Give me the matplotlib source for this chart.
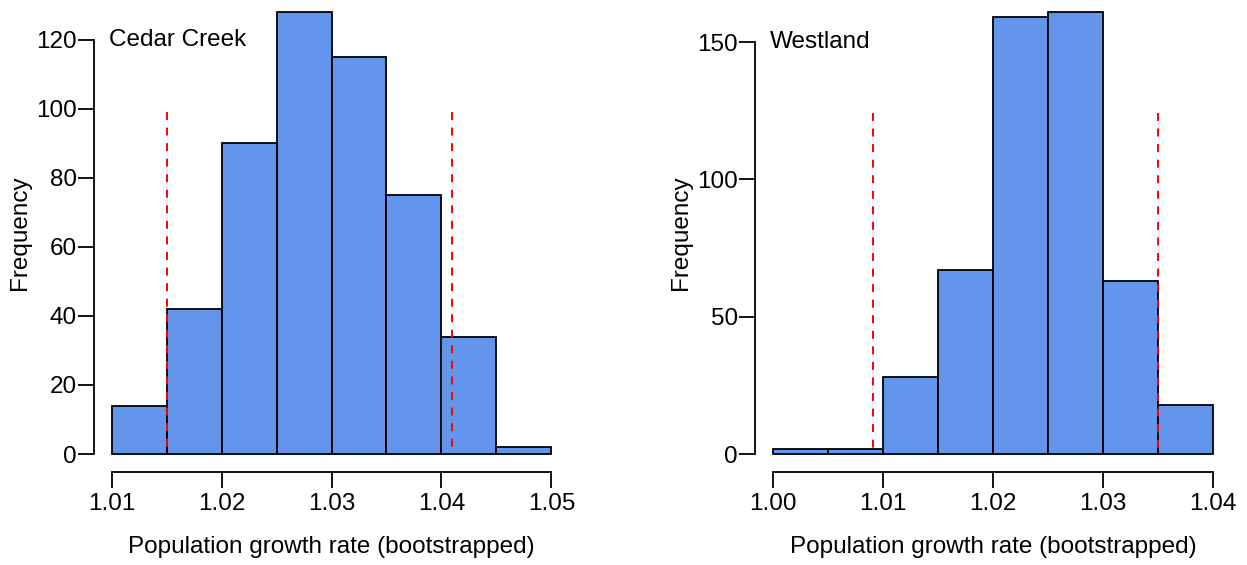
import numpy as np
import matplotlib
matplotlib.use("Agg")
import matplotlib.pyplot as plt

plt.rcParams['font.family'] = ['Liberation Sans', 'DejaVu Sans']

# Data
cedar_edges = [1.010, 1.015, 1.020, 1.025, 1.030, 1.035, 1.040, 1.045, 1.050]
cedar_counts = [14, 42, 90, 128, 115, 75, 34, 2]
cedar_ci = [1.0150, 1.0410]
cedar_ci_top = 99

west_edges = [1.000, 1.005, 1.010, 1.015, 1.020, 1.025, 1.030, 1.035, 1.040]
west_counts = [2, 2, 28, 67, 159, 161, 63, 18]
west_ci = [1.0091, 1.0350]
west_ci_top = 124

cedar_xticks = [1.01, 1.02, 1.03, 1.04, 1.05]
cedar_yticks = [0, 20, 40, 60, 80, 100, 120]
west_xticks = [1.00, 1.01, 1.02, 1.03, 1.04]
west_yticks = [0, 50, 100, 150]

W, H = 1247, 565
fig = plt.figure(figsize=(W / 100, H / 100), dpi=100)

fs = 17.5
bottom_px, height_px, width_px = 471.7, 477.5, 475
panels = [
    (94, "Cedar Creek", cedar_edges, cedar_counts, cedar_ci, cedar_ci_top, cedar_xticks, cedar_yticks),
    (755.4, "Westland", west_edges, west_counts, west_ci, west_ci_top, west_xticks, west_yticks),
]

for left_px, name, edges, counts, ci, ci_top, xt, yt in panels:
    ax = fig.add_axes([left_px / W, (H - bottom_px) / H, width_px / W, height_px / H])
    edges = np.array(edges)
    ax.bar(edges[:-1], counts, width=np.diff(edges), align='edge',
           color='#6495ED', edgecolor='black', linewidth=1.3)
    # dashed interval lines, drawn from the top down
    for x in ci:
        ax.plot([x, x], [ci_top, 0], color='red', linestyle=(0, (4.1, 3.9)), linewidth=1.4)

    # R style extended limits (4%)
    xr = edges[-1] - edges[0]
    ax.set_xlim(edges[0] - 0.04 * xr, edges[-1] + 0.04 * xr)
    ymax = max(counts)
    ax.set_ylim(-0.04 * ymax, ymax * 1.04)

    for s in ['top', 'right']:
        ax.spines[s].set_visible(False)
    ax.spines['left'].set_bounds(yt[0], yt[-1])
    ax.spines['bottom'].set_bounds(xt[0], xt[-1])
    ax.spines['left'].set_linewidth(1.3)
    ax.spines['bottom'].set_linewidth(1.3)

    ax.set_xticks(xt)
    ax.set_xticklabels([f"{v:.2f}" for v in xt])
    ax.set_yticks(yt)
    ax.tick_params(axis='both', direction='out', length=11.5, width=1.3,
                   labelsize=fs)
    ax.tick_params(axis='x', pad=4)
    ax.tick_params(axis='y', pad=1)

    ax.set_ylabel("Frequency", fontsize=fs)
    ax.yaxis.set_label_coords(-0.133, 0.5)
    ax.set_xlabel("Population growth rate (bootstrapped)", fontsize=fs)
    ax.xaxis.set_label_coords(0.5, -0.135)

    ax.text(edges[0] - 0.007 * xr, yt[-1], name,
            fontsize=fs, ha='left', va='center')

fig.savefig("out.png", dpi=100)
